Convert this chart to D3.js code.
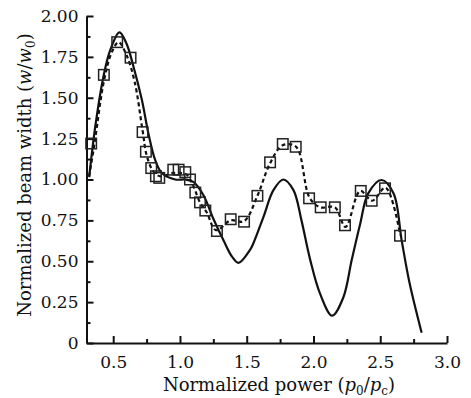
<!DOCTYPE html>
<html><head><meta charset="utf-8">
<script src="https://cdn.jsdelivr.net/npm/d3@7"></script>
<style>body{margin:0;background:#fff}svg{display:block}</style>
</head><body>
<svg id="c" width="471" height="398"></svg>
<script>
// Theory curve (solid)
const theoryP = [0.32,0.365,0.427,0.477,0.547,0.60,0.652,0.715,0.764,0.814,0.864,0.964,1.04,1.10,1.175,1.25,1.325,1.39,1.438,1.525,1.55,1.625,1.70,1.774,1.85,1.91,1.975,2.05,2.14,2.224,2.287,2.35,2.41,2.51,2.60,2.66,2.72,2.81];
const theoryV = [1.015,1.32,1.63,1.79,1.90,1.83,1.69,1.486,1.28,1.12,1.04,1.0,1.0,0.985,0.905,0.76,0.63,0.528,0.49,0.57,0.61,0.77,0.935,1.0,0.935,0.75,0.51,0.30,0.167,0.28,0.51,0.73,0.915,0.997,0.915,0.63,0.365,0.063];
// Experimental points (squares)
const expP = [0.335,0.43,0.53,0.63,0.72,0.745,0.785,0.82,0.845,0.95,0.99,1.04,1.075,1.115,1.15,1.19,1.277,1.38,1.48,1.58,1.675,1.77,1.867,1.967,2.054,2.16,2.236,2.354,2.436,2.536,2.648];
const expV = [1.22,1.64,1.84,1.745,1.29,1.17,1.07,1.02,1.01,1.06,1.06,1.045,1.0,0.92,0.86,0.81,0.685,0.757,0.742,0.90,1.105,1.217,1.20,0.885,0.83,0.83,0.72,0.93,0.87,0.946,0.656];
// Dashed fit line
const fitP = [0.32,0.36,0.43,0.49,0.54,0.60,0.66,0.72,0.75,0.80,0.85,0.95,1.0,1.05,1.10,1.15,1.20,1.27,1.38,1.48,1.58,1.675,1.77,1.87,1.97,2.05,2.16,2.24,2.35,2.44,2.54,2.65];
const fitV = [1.02,1.22,1.6,1.78,1.84,1.76,1.6,1.3,1.15,1.05,1.02,1.04,1.04,1.03,0.96,0.86,0.8,0.69,0.75,0.745,0.9,1.1,1.21,1.2,0.89,0.83,0.83,0.71,0.93,0.87,0.95,0.66];
const xTicks = [0.5,1.0,1.5,2.0,2.5,3.0];
const xTickLabels = ["0.5","1.0","1.5","2.0","2.5","3.0"];
const yTicks = [0,0.25,0.5,0.75,1.0,1.25,1.5,1.75,2.0];
const yTickLabels = ["0","0.25","0.50","0.75","1.00","1.25","1.50","1.75","2.00"];

const svg = d3.select("#c");
const FONT = "DejaVu Serif";
const x = d3.scaleLinear().domain([0.3,3.0]).range([86.5,447]);
const y = d3.scaleLinear().domain([0,2.0]).range([343,16]);

const g = svg.append("g");
// axes
const xAxis = d3.axisBottom(x).tickValues(xTicks).tickFormat((d,i)=>xTickLabels[i]).tickSizeInner(-7).tickSizeOuter(0).tickPadding(13);
const gx = g.append("g").attr("transform","translate(0,343)").call(xAxis);
const xMinor = d3.axisBottom(x).tickValues([0.75,1.25,1.75,2.25,2.75]).tickFormat("").tickSizeInner(-4).tickSizeOuter(0);
g.append("g").attr("transform","translate(0,343)").call(xMinor).select(".domain").remove();
const yAxis = d3.axisLeft(y).tickValues(yTicks).tickFormat((d,i)=>yTickLabels[i]).tickSizeInner(-7).tickSizeOuter(0).tickPadding(8);
const gy = g.append("g").attr("transform","translate(86.5,0)").call(yAxis);
const yMinor = d3.axisLeft(y).tickValues([0.125,0.375,0.625,0.875,1.125,1.375,1.625,1.875]).tickFormat("").tickSizeInner(-4).tickSizeOuter(0);
g.append("g").attr("transform","translate(86.5,0)").call(yMinor).select(".domain").remove();
g.selectAll(".domain").attr("stroke","#111").attr("stroke-width",2);
g.selectAll(".tick line").attr("stroke","#111").attr("stroke-width",2);
g.selectAll(".tick text").attr("font-family",FONT).attr("font-size",17).attr("fill","#111");
gx.selectAll(".tick text").attr("dy","0.71em");

// lines
const theory = theoryP.map((p,i)=>[p,theoryV[i]]);
const fit = fitP.map((p,i)=>[p,fitV[i]]);
const line = d3.line().x(d=>x(d[0])).y(d=>y(d[1])).curve(d3.curveCatmullRom.alpha(0.5));
g.append("path").attr("d",line(theory)).attr("fill","none").attr("stroke","#111").attr("stroke-width",2.2);
g.append("path").attr("d",line(fit)).attr("fill","none").attr("stroke","#111").attr("stroke-width",2.2).attr("stroke-dasharray","4,3");
const s = 10.5;
g.selectAll("rect.pt").data(expP.map((p,i)=>[p,expV[i]])).enter().append("rect").attr("class","pt")
  .attr("x",d=>x(d[0])-s/2).attr("y",d=>y(d[1])-s/2).attr("width",s).attr("height",s)
  .attr("fill","none").attr("stroke","#222").attr("stroke-width",1.5);

// titles
const xt = svg.append("text").attr("x",279).attr("y",391).attr("text-anchor","middle")
  .attr("font-family",FONT).attr("font-size",18).attr("fill","#111");
xt.append("tspan").text("Normalized power (");
xt.append("tspan").attr("font-style","italic").text("p");
xt.append("tspan").attr("font-size",12).attr("dy",4).text("0");
xt.append("tspan").attr("dy",-4).text("/");
xt.append("tspan").attr("font-style","italic").text("p");
xt.append("tspan").attr("font-size",12).attr("dy",4).text("c");
xt.append("tspan").attr("dy",-4).text(")");

const yt = svg.append("text").attr("transform","translate(31,175) rotate(-90)").attr("text-anchor","middle")
  .attr("font-family",FONT).attr("font-size",18).attr("fill","#111");
yt.append("tspan").text("Normalized beam width (");
yt.append("tspan").attr("font-style","italic").text("w");
yt.append("tspan").text("/");
yt.append("tspan").attr("font-style","italic").text("w");
yt.append("tspan").attr("font-size",12).attr("dy",4).text("0");
yt.append("tspan").attr("dy",-4).text(")");
</script>
</body></html>
